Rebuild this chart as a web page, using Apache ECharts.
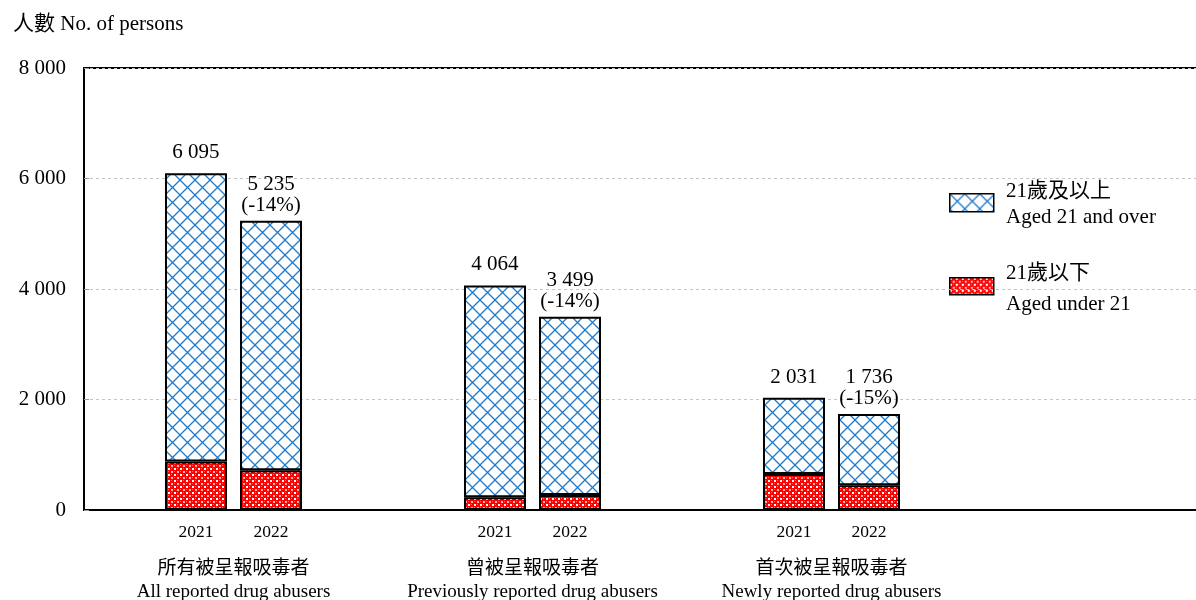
<!DOCTYPE html>
<html><head><meta charset="utf-8">
<script src="https://cdn.jsdelivr.net/npm/echarts@6/dist/echarts.min.js"></script>
<style>html,body{margin:0;padding:0;background:#fff}#c{width:1196px;height:600px}</style>
</head><body><div id="c"></div>
<script>
const groupsZh = ['所有被呈報吸毒者','曾被呈報吸毒者','首次被呈報吸毒者',''];
const groupsEn = ['All reported drug abusers','Previously reported drug abusers','Newly reported drug abusers',''];
const years = ['2021','2022'];
const total2021 = [6095, 4064, 2031];
const total2022 = [5235, 3499, 1736];
const under2021 = [880, 230, 650];
const under2022 = [720, 270, 450];
const change2022 = ['-14%', '-14%', '-15%'];

const FONT = "'Liberation Serif', 'Noto Sans CJK TC', serif";
function fmt(v){ return String(v).replace(/\B(?=(\d{3})+(?!\d))/g, ' '); }

function bluePattern(){
  const s = 15, c = document.createElement('canvas'); c.width = s; c.height = s;
  const g = c.getContext('2d'); g.fillStyle = '#fff'; g.fillRect(0,0,s,s);
  g.strokeStyle = '#1f7acb'; g.lineWidth = 1.3;
  g.beginPath(); g.moveTo(0,0); g.lineTo(s,s); g.moveTo(s,0); g.lineTo(0,s); g.stroke();
  return c;
}
function redPattern(){
  const s = 6, c = document.createElement('canvas'); c.width = s; c.height = s;
  const g = c.getContext('2d'); g.fillStyle = '#ff0000'; g.fillRect(0,0,s,s);
  g.fillStyle = '#ffffff'; g.fillRect(0,0,2,2);
  g.fillStyle = '#ffb4b4'; g.fillRect(3,3,2,2);
  g.fillStyle = '#ff7070'; g.fillRect(0,3,1,1); g.fillRect(3,0,1,1);
  return c;
}
const blueFill = {image: bluePattern(), repeat: 'repeat'};
const redFill = {image: redPattern(), repeat: 'repeat'};

const over2021 = total2021.map((t,i)=>t-under2021[i]);
const over2022 = total2022.map((t,i)=>t-under2022[i]);

const chart = echarts.init(document.getElementById('c'));
const border = {borderColor:'#000', borderWidth:2};
const BW = 62, GAP = '21%';
chart.setOption({
  animation:false,
  title:{text:'人數 No. of persons', left:8, top:9, textStyle:{fontFamily:FONT, fontSize:21, fontWeight:'normal', color:'#000'}},
  grid:{left:84, top:68, width:1196, height:442, outerBoundsMode:'none', containLabel:false, show:true, borderColor:'#000', borderWidth:2},
  xAxis:{type:'category', data:groupsZh,
    axisLine:{lineStyle:{color:'#000', width:2}}, axisTick:{show:false},
    axisLabel:{interval:0, hideOverlap:false, margin:48, fontFamily:FONT, fontSize:19, color:'#000', lineHeight:23,
      formatter:(v,i)=> v ? v + '\n' + groupsEn[i] : ''}},
  yAxis:{type:'value', min:0, max:8000, interval:2000,
    axisLine:{show:true, lineStyle:{color:'#000', width:2}},
    axisTick:{show:true, inside:true, length:5, lineStyle:{color:'#999'}},
    axisLabel:{margin:18, fontFamily:FONT, fontSize:21, color:'#000', formatter:v=>fmt(v)},
    splitLine:{lineStyle:{color:'#c4c4c4', type:[3,3], width:1}}},
  series:[
    {name:'21歲以下', type:'bar', stack:'y2021', barWidth:BW, barGap:GAP, data:under2021,
      itemStyle:Object.assign({color:redFill}, border),
      label:{show:true, position:'bottom', distance:14, formatter:()=>years[0], fontFamily:FONT, fontSize:17.5, color:'#000'}},
    {name:'21歲及以上', type:'bar', stack:'y2021', barWidth:BW, barGap:GAP, data:over2021,
      itemStyle:Object.assign({color:blueFill}, border),
      label:{show:true, position:'top', distance:10, formatter:p=>fmt(total2021[p.dataIndex]), fontFamily:FONT, fontSize:21, color:'#000'}},
    {name:'21歲以下', type:'bar', stack:'y2022', barWidth:BW, barGap:GAP, data:under2022,
      itemStyle:Object.assign({color:redFill}, border),
      label:{show:true, position:'bottom', distance:14, formatter:()=>years[1], fontFamily:FONT, fontSize:17.5, color:'#000'}},
    {name:'21歲及以上', type:'bar', stack:'y2022', barWidth:BW, barGap:GAP, data:over2022,
      itemStyle:Object.assign({color:blueFill}, border),
      label:{show:true, position:'top', distance:5, lineHeight:21, formatter:p=>fmt(total2022[p.dataIndex])+'\n('+change2022[p.dataIndex]+')', fontFamily:FONT, fontSize:21, color:'#000'}}
  ],
  graphic:[
    {type:'rect', left:949, top:193, shape:{width:44, height:18}, style:{fill:blueFill, stroke:'#000', lineWidth:1.5}},
    {type:'text', left:1006, top:181, style:{text:'21歲及以上', font:'21px '+FONT, fill:'#000'}},
    {type:'text', left:1006, top:207, style:{text:'Aged 21 and over', font:'21px '+FONT, fill:'#000'}},
    {type:'rect', left:949, top:277, shape:{width:44, height:17}, style:{fill:redFill, stroke:'#000', lineWidth:1.5}},
    {type:'text', left:1006, top:263, style:{text:'21歲以下', font:'21px '+FONT, fill:'#000'}},
    {type:'text', left:1006, top:294, style:{text:'Aged under 21', font:'21px '+FONT, fill:'#000'}}
  ]
});
</script></body></html>
